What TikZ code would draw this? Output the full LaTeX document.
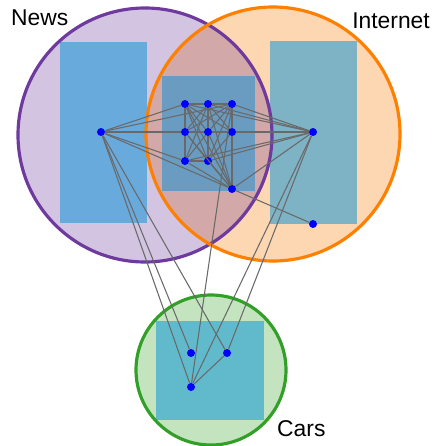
\documentclass[tikz,border=0pt]{standalone}
\usepackage{fontspec}
\setmainfont{Liberation Sans}

\definecolor{newsfill}{RGB}{211,196,226}
\definecolor{newsline}{RGB}{110,58,158}
\definecolor{inetfill}{RGB}{253,214,178}
\definecolor{inetline}{RGB}{255,128,0}
\definecolor{bothfill}{RGB}{211,168,168}
\definecolor{carsfill}{RGB}{196,228,192}
\definecolor{carsline}{RGB}{50,160,40}
\definecolor{boxblue}{RGB}{0,145,217}
\definecolor{linkgray}{RGB}{105,105,105}

\tikzset{
  dot/.style={circle, fill=blue, inner sep=0pt, minimum size=0.24cm},
  link/.style={draw=linkgray, line width=0.9pt},
  setline/.style={line width=2.7pt},
  groupbox/.style={fill=boxblue, fill opacity=0.5},
  setname/.style={font=\fontsize{19.5}{23}\selectfont}
}

\begin{document}
\begin{tikzpicture}[x=0.03cm, y=-0.03cm]

		\useasboundingbox (0,0) rectangle (432,446);

		% Define the sets
		\fill[newsfill] (145,135) circle (127);
		\fill[inetfill] (273,134) circle (127);
		\begin{scope}
			\clip (145,135) circle (127);
			\fill[bothfill] (273,134) circle (127);
		\end{scope}
		\fill[carsfill] (211,370) circle (75);

		\fill[groupbox] (60,42) rectangle (147,223);
		\fill[groupbox] (162,76) rectangle (255,191);
		\fill[groupbox] (270,41) rectangle (357,224);
		\fill[groupbox] (156,321) rectangle (264,420);

		\draw[setline, newsline] (145,135) circle (127);
		\draw[setline, inetline] (273,134) circle (127);
		\draw[setline, carsline] (211,370) circle (75);

		% Define the nodes
		\node[dot] (news) at (101,132) {};
		\node[dot] (mid11) at (185,104) {};
		\node[dot] (mid12) at (208,104) {};
		\node[dot] (mid13) at (232,104) {};
		\node[dot] (mid21) at (185,132) {};
		\node[dot] (mid22) at (208,132) {};
		\node[dot] (mid23) at (232,132) {};
		\node[dot] (mid31) at (185,161) {};
		\node[dot] (mid32) at (208,161) {};
		\node[dot] (mid33) at (232,189) {};
		\node[dot] (inet_top) at (313,132) {};
		\node[dot] (inet_low) at (313,224) {};
		\node[dot] (cars_left) at (191,353) {};
		\node[dot] (cars_right) at (227,353) {};
		\node[dot] (cars_low) at (191,387) {};

		% Define the edges
		\draw[link] (news) -- (mid11);
		\draw[link] (news) -- (mid13);
		\draw[link] (news) -- (mid21);
		\draw[link] (news) -- (mid31);
		\draw[link] (news) -- (mid33);
		\draw[link] (news) -- (cars_left);
		\draw[link] (news) -- (cars_right);
		\draw[link] (news) -- (cars_low);
		\draw[link] (mid11) -- (mid12);
		\draw[link] (mid12) -- (mid13);
		\draw[link] (mid21) -- (mid22);
		\draw[link] (mid22) -- (mid23);
		\draw[link] (mid31) -- (mid32);
		\draw[link] (mid11) -- (mid21);
		\draw[link] (mid21) -- (mid31);
		\draw[link] (mid12) -- (mid22);
		\draw[link] (mid22) -- (mid32);
		\draw[link] (mid13) -- (mid23);
		\draw[link] (mid23) -- (mid33);
		\draw[link] (mid11) -- (mid22);
		\draw[link] (mid11) -- (mid23);
		\draw[link] (mid11) -- (mid32);
		\draw[link] (mid11) -- (mid33);
		\draw[link] (mid12) -- (mid21);
		\draw[link] (mid12) -- (mid23);
		\draw[link] (mid12) -- (mid31);
		\draw[link] (mid12) -- (mid33);
		\draw[link] (mid13) -- (mid21);
		\draw[link] (mid13) -- (mid22);
		\draw[link] (mid13) -- (mid32);
		\draw[link] (mid22) -- (mid31);
		\draw[link] (mid21) -- (mid32);
		\draw[link] (mid21) -- (mid33);
		\draw[link] (mid22) -- (mid33);
		\draw[link] (mid23) -- (mid32);
		\draw[link] (mid31) -- (mid33);
		\draw[link] (mid32) -- (mid33);
		\draw[link] (mid23) -- (inet_top);
		\draw[link] (mid33) -- (inet_low);
		\draw[link] (inet_top) -- (mid11);
		\draw[link] (inet_top) -- (mid12);
		\draw[link] (inet_top) -- (mid13);
		\draw[link] (inet_top) -- (mid31);
		\draw[link] (inet_top) -- (mid32);
		\draw[link] (inet_top) -- (mid33);
		\draw[link] (inet_top) -- (cars_right);
		\draw[link] (inet_top) -- (cars_low);
		\draw[link] (mid13) -- (cars_low);
		\draw[link] (cars_right) -- (cars_low);

		% Add labels for sets
		\node[setname, anchor=base west, inner sep=0pt] (news_name) at (11,25) {News};
		\node[setname, anchor=base east, inner sep=0pt] (inet_name) at (430,28) {Internet};
		\node[setname, anchor=base west, inner sep=0pt] (cars_name) at (277,436) {Cars};

	\end{tikzpicture}
\end{document}
